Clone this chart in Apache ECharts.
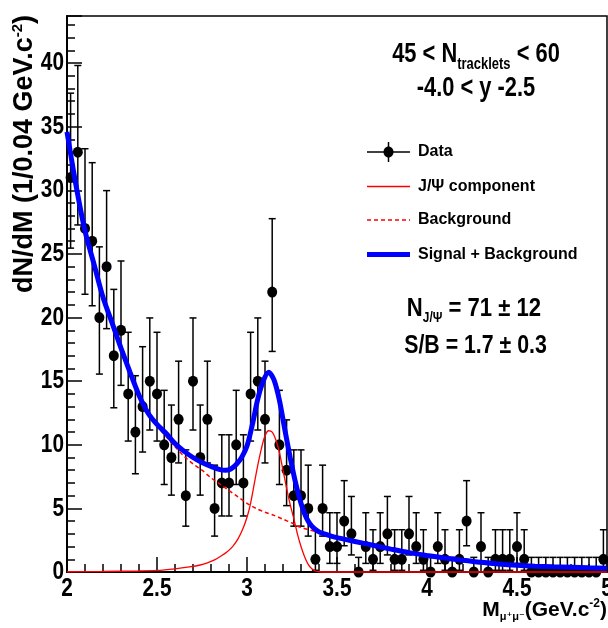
<!DOCTYPE html>
<html>
<head>
<meta charset="utf-8">
<title>Dimuon invariant mass, J/psi fit</title>
<script src="https://cdn.jsdelivr.net/npm/echarts@6.0.0/dist/echarts.min.js"></script>
<style>
  html, body { margin: 0; padding: 0; background: #ffffff; }
  #chart { width: 608px; height: 628px; }
</style>
</head>
<body>
<div id="chart"></div>
<script>
// Histogram binning of the dimuon invariant mass (GeV/c^2)
const massMin = 2.0;
const massMax = 5.0;
const binWidth = 0.04;

// Entries per 0.04 GeV/c^2 bin, from 2.00 up to 5.00
const counts = [
  31, 33, 27, 26, 20, 24, 17, 19, 14, 11,
  13, 15, 14, 10,  9, 12,  6, 15,  9, 12,
   5,  7,  7, 10,  7, 14, 15, 12, 22, 10,
   8,  6,  6,  5,  1,  5,  2,  2,  4,  3,
   0,  2,  1,  2,  3,  1,  1,  3,  2,  1,
   0,  2,  1,  0,  1,  4,  0,  2,  0,  1,
   1,  1,  2,  1,  0,  0,  0,  0,  0,  0,
   0,  0,  0,  0,  1
];

// Upper error drawn for empty bins
const emptyBinErrorUp = 1.15;

// Fit curves sampled along the mass axis: [mass, dN/dM]
const signalPlusBackground = [
  [2.00, 34.6], [2.05, 30.4], [2.10, 26.8], [2.15, 24.2], [2.20, 21.6],
  [2.25, 19.6], [2.30, 17.6], [2.35, 15.7], [2.40, 13.9], [2.45, 12.5],
  [2.50, 11.6], [2.55, 10.9], [2.60, 10.1], [2.65, 9.5], [2.70, 9.0],
  [2.75, 8.6], [2.80, 8.3], [2.85, 8.05], [2.88, 8.0], [2.91, 8.1],
  [2.94, 8.45], [2.97, 9.0], [3.00, 9.9], [3.03, 11.6], [3.06, 13.6],
  [3.09, 15.0], [3.12, 15.7], [3.15, 15.1], [3.18, 13.5], [3.21, 11.2],
  [3.24, 9.0], [3.27, 7.0], [3.30, 5.4], [3.33, 4.25], [3.36, 3.6],
  [3.40, 3.15], [3.45, 2.9], [3.50, 2.7], [3.60, 2.4], [3.70, 2.1],
  [3.80, 1.8], [3.90, 1.52], [4.00, 1.3], [4.10, 1.1], [4.20, 0.92],
  [4.30, 0.76], [4.40, 0.63], [4.50, 0.53], [4.60, 0.46], [4.70, 0.41],
  [4.80, 0.37], [4.90, 0.33], [5.00, 0.30]
];

const jpsiComponent = [
  [2.00, 0.02], [2.20, 0.04], [2.40, 0.08], [2.50, 0.12], [2.60, 0.25],
  [2.68, 0.40], [2.74, 0.55], [2.78, 0.72], [2.82, 0.95], [2.86, 1.3],
  [2.89, 1.6], [2.92, 2.0], [2.95, 2.6], [2.98, 3.5], [3.00, 4.3],
  [3.02, 5.4], [3.04, 6.9], [3.06, 8.4], [3.08, 9.7], [3.10, 10.7],
  [3.12, 11.1], [3.14, 11.0], [3.16, 10.4], [3.18, 9.4], [3.20, 8.0],
  [3.22, 6.6], [3.24, 5.3], [3.26, 4.2], [3.28, 3.0], [3.30, 2.0],
  [3.32, 1.2], [3.34, 0.6], [3.36, 0.25], [3.38, 0.08], [3.40, 0.02],
  [3.45, 0.0], [5.00, 0.0]
];

const backgroundComponent = [
  [2.00, 34.5], [2.05, 30.3], [2.10, 26.7], [2.15, 24.1], [2.20, 21.5],
  [2.25, 19.5], [2.30, 17.5], [2.35, 15.6], [2.40, 13.8], [2.45, 12.35],
  [2.50, 11.45], [2.55, 10.65], [2.60, 9.85], [2.65, 9.1], [2.70, 8.5],
  [2.75, 8.0], [2.80, 7.4], [2.85, 6.9], [2.90, 6.4], [2.95, 5.9],
  [3.00, 5.4], [3.05, 5.0], [3.10, 4.7], [3.15, 4.45], [3.20, 4.15],
  [3.25, 3.85], [3.30, 3.5], [3.35, 3.3], [3.40, 3.1], [3.45, 2.9],
  [3.50, 2.7], [3.60, 2.4], [3.70, 2.1], [3.80, 1.8], [3.90, 1.52],
  [4.00, 1.3], [4.10, 1.1], [4.20, 0.92], [4.30, 0.76], [4.40, 0.63],
  [4.50, 0.53], [4.60, 0.46], [4.70, 0.41], [4.80, 0.37], [4.90, 0.33],
  [5.00, 0.30]
];

// Axis range and tick labels
const yMax = 43.7;
const xTickLabels = ['2', '2.5', '3', '3.5', '4', '4.5', '5'];
const yTickLabels = ['0', '5', '10', '15', '20', '25', '30', '35', '40'];

// Legend entries
const legendLabels = ['Data', 'J/\u03A8 component', 'Background', 'Signal + Background'];

// ---------------------------------------------------------------------

const SANS = '"Liberation Sans", Arial, "DejaVu Sans", sans-serif';
// narrow look for numbers and annotations: bold face squeezed horizontally
const SQUEEZE = 0.8;

// Bin centres and asymmetric Poisson error bars
const points = counts.map((n, i) => [+(massMin + (i + 0.5) * binWidth).toFixed(2), n]);
const errorBars = counts.map((n, i) => {
  const lo = n > 0 ? n - Math.sqrt(n - 0.25) : 0;
  const hi = n > 0 ? n + Math.sqrt(n + 0.75) + 1 : emptyBinErrorUp;
  return [points[i][0], lo, hi];
});

const chart = echarts.init(document.getElementById('chart'), null, { renderer: 'canvas' });

function legendRow(y, lineStyle, label) {
  return [
    { type: 'line', shape: { x1: 367, y1: y, x2: 410, y2: y }, style: lineStyle, z: 10 },
    { type: 'text', x: 418, y: y, z: 10,
      style: { text: label, font: 'bold 16px ' + SANS, fill: '#000', align: 'left', verticalAlign: 'middle' } }
  ];
}

const graphics = [
  // y-axis title
  { type: 'text', x: 25, y: 15, rotation: Math.PI / 2, z: 10,
    style: {
      text: 'dN/dM (1/0.04 GeV.c{sup|-2})',
      font: 'bold 27px ' + SANS, fill: '#000', align: 'right', verticalAlign: 'middle',
      rich: { sup: { fontFamily: SANS, fontWeight: 'bold', fontSize: 15, padding: [0, 0, 15, 0] } }
    } },
  // x-axis title
  { type: 'text', x: 607, y: 610, z: 10,
    style: {
      text: 'M{sub|\u03BC\u207A\u03BC\u207B}(GeV.c{sup|-2})',
      font: 'bold 21px ' + SANS, fill: '#000', align: 'right', verticalAlign: 'middle',
      rich: {
        sub: { fontFamily: SANS, fontWeight: 'bold', fontSize: 11, padding: [14, 0, 0, 0] },
        sup: { fontFamily: SANS, fontWeight: 'bold', fontSize: 12, padding: [0, 0, 12, 0] }
      }
    } },
  // selection labels
  { type: 'text', x: 476, y: 55, z: 10, scaleX: 0.81,
    style: {
      text: '45 < N{sub|tracklets} < 60',
      font: 'bold 27px ' + SANS, fill: '#000', align: 'center', verticalAlign: 'middle',
      rich: { sub: { fontFamily: SANS, fontWeight: 'bold', fontSize: 16, padding: [20, 0, 0, 0] } }
    } },
  { type: 'text', x: 476, y: 89, z: 10, scaleX: 0.81,
    style: { text: '-4.0 < y -2.5', font: 'bold 27px ' + SANS, fill: '#000', align: 'center', verticalAlign: 'middle' } },
  // fit results
  { type: 'text', x: 474, y: 309, z: 10, scaleX: 0.85,
    style: {
      text: 'N{sub|J/\u03A8} = 71 \u00B1 12',
      font: 'bold 26px ' + SANS, fill: '#000', align: 'center', verticalAlign: 'middle',
      rich: { sub: { fontFamily: SANS, fontWeight: 'bold', fontSize: 14, padding: [18, 0, 0, 0] } }
    } },
  { type: 'text', x: 475.5, y: 346, z: 10, scaleX: 0.82,
    style: { text: 'S/B = 1.7 \u00B1 0.3', font: 'bold 26px ' + SANS, fill: '#000', align: 'center', verticalAlign: 'middle' } },
  // legend: data marker with error cross
  { type: 'line', shape: { x1: 367, y1: 152, x2: 410, y2: 152 }, style: { stroke: '#000', lineWidth: 1.5 }, z: 10 },
  { type: 'line', shape: { x1: 388.5, y1: 142, x2: 388.5, y2: 162 }, style: { stroke: '#000', lineWidth: 1.5 }, z: 10 },
  { type: 'ellipse', shape: { cx: 388.5, cy: 152, rx: 5, ry: 5.5 }, style: { fill: '#000' }, z: 10 },
  { type: 'text', x: 418, y: 152, z: 10,
    style: { text: legendLabels[0], font: 'bold 16px ' + SANS, fill: '#000', align: 'left', verticalAlign: 'middle' } }
].concat(
  legendRow(186.5, { stroke: '#ff0000', lineWidth: 1.5 }, legendLabels[1]),
  legendRow(220, { stroke: '#ff0000', lineWidth: 1.5, lineDash: [4, 3] }, legendLabels[2]),
  legendRow(254.5, { stroke: '#0000ff', lineWidth: 5 }, legendLabels[3])
);

const option = {
  animation: false,
  backgroundColor: '#ffffff',
  grid: {
    left: 67, top: 16, width: 540, height: 556,
    show: true, borderColor: '#000', borderWidth: 1.5, backgroundColor: 'transparent',
    containLabel: false, outerBoundsMode: 'none'
  },
  xAxis: {
    type: 'value', min: massMin, max: massMax, interval: 0.5,
    axisLine: { onZero: false, lineStyle: { color: '#000', width: 2 } },
    axisTick: { inside: true, length: 15, lineStyle: { color: '#000', width: 1.5 } },
    minorTick: { show: true, splitNumber: 5, length: 8, lineStyle: { color: '#000', width: 1.5 } },
    splitLine: { show: false },
    minorSplitLine: { show: false },
    axisLabel: { show: false }
  },
  yAxis: [
    {
      type: 'value', min: 0, max: yMax, interval: 5,
      axisLine: { onZero: false, lineStyle: { color: '#000', width: 2 } },
      axisTick: { inside: true, length: 15, lineStyle: { color: '#000', width: 1.5 } },
      splitLine: { show: false },
      axisLabel: { show: false }
    },
    {
      // minor ticks every unit
      type: 'value', min: 0, max: yMax, interval: 1, position: 'left',
      axisLine: { show: false },
      axisTick: { inside: true, length: 8, lineStyle: { color: '#000', width: 1.5 } },
      splitLine: { show: false },
      axisLabel: { show: false }
    }
  ],
  series: [
    {
      name: 'errors', type: 'custom', data: errorBars, z: 3, clip: false,
      encode: { x: 0, y: [1, 2] },
      renderItem: function (params, api) {
        const x = api.value(0);
        const pLo = api.coord([x, api.value(1)]);
        const pHi = api.coord([x, api.value(2)]);
        const cap = 3.5;
        const st = { stroke: '#000', lineWidth: 1.5 };
        return {
          type: 'group',
          children: [
            { type: 'line', shape: { x1: pLo[0], y1: pLo[1], x2: pHi[0], y2: pHi[1] }, style: st },
            { type: 'line', shape: { x1: pHi[0] - cap, y1: pHi[1], x2: pHi[0] + cap, y2: pHi[1] }, style: st },
            { type: 'line', shape: { x1: pLo[0] - cap, y1: pLo[1], x2: pLo[0] + cap, y2: pLo[1] }, style: st }
          ]
        };
      }
    },
    {
      name: 'Data', type: 'scatter', data: points, z: 4, clip: false,
      symbol: 'circle', symbolSize: [10, 11],
      itemStyle: { color: '#000', opacity: 1 }
    },
    {
      name: 'Background', type: 'line', data: backgroundComponent, z: 5, clip: false,
      showSymbol: false, smooth: 0.3,
      lineStyle: { color: '#ff0000', width: 1.5, type: [4, 3] }
    },
    {
      name: 'J/\u03A8 component', type: 'line', data: jpsiComponent, z: 5, clip: false,
      showSymbol: false, smooth: 0.3,
      lineStyle: { color: '#ff0000', width: 1.3 }
    },
    {
      name: 'Signal + Background', type: 'line', data: signalPlusBackground, z: 6, clip: false,
      showSymbol: false, smooth: 0.3,
      lineStyle: { color: '#0000ff', width: 5 }
    }
  ],
  graphic: graphics
};

chart.setOption(option);

// Tick labels in the squeezed bold face, placed through the axis scales
const axisX0 = chart.convertToPixel({ xAxisIndex: 0 }, massMin);
const axisY0 = chart.convertToPixel({ yAxisIndex: 0 }, 0);
const tickFont = 'bold 26px ' + SANS;
const tickTexts = [];
yTickLabels.forEach(function (lab) {
  tickTexts.push({
    type: 'text', x: axisX0 - 3, y: chart.convertToPixel({ yAxisIndex: 0 }, parseFloat(lab)),
    scaleX: SQUEEZE, z: 10,
    style: { text: lab, font: tickFont, fill: '#000', align: 'right', verticalAlign: 'middle' }
  });
});
xTickLabels.forEach(function (lab) {
  tickTexts.push({
    type: 'text', x: chart.convertToPixel({ xAxisIndex: 0 }, parseFloat(lab)), y: axisY0 + 4,
    scaleX: SQUEEZE, z: 10,
    style: { text: lab, font: tickFont, fill: '#000', align: 'center', verticalAlign: 'top' }
  });
});
chart.setOption({ graphic: graphics.concat(tickTexts) });
</script>
</body>
</html>
